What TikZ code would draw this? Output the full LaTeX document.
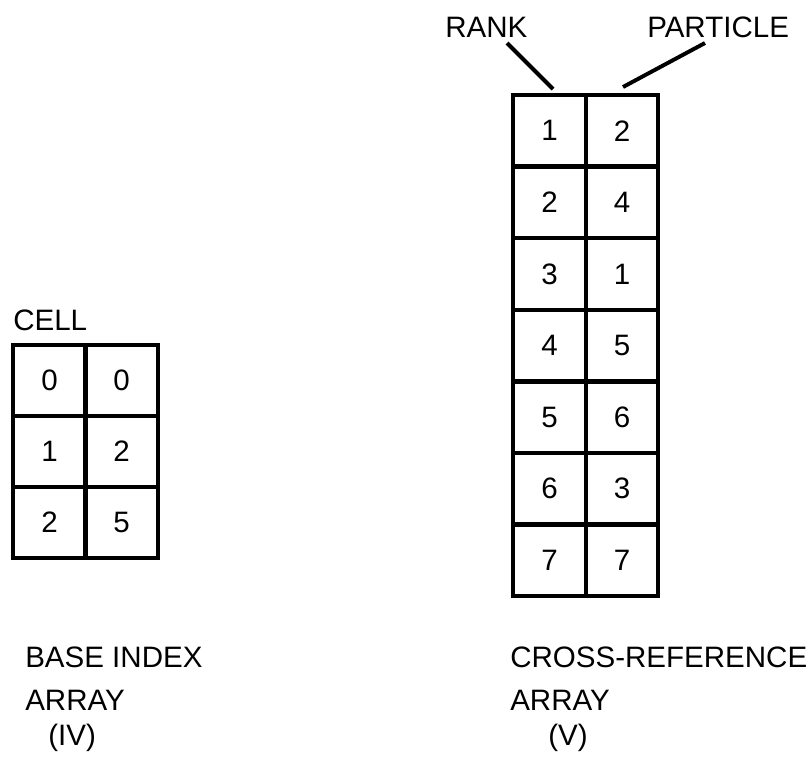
\documentclass[tikz,border=0pt]{standalone}
\usepackage{fontspec}
\setmainfont{Liberation Sans}
\usetikzlibrary{positioning}

\begin{document}
\begin{tikzpicture}[x=0.025cm, y=-0.025cm,
    every node/.style={font=\fontsize{21}{25}\selectfont},
    cell/.style={draw, line width=2.8pt, inner sep=0pt, minimum width=1.81cm, minimum height=1.78cm},
    lbl/.style={anchor=base west, inner sep=0pt},
    lead/.style={line width=2.8pt}]
\useasboundingbox (0,0) rectangle (812,759);
% base index array
\foreach \r/\a/\b in {1/0/0, 2/1/2, 3/2/5} {
    \node[cell] (bi\r1) at (49.5,{309.5+71*\r}) {\a};
    \node[cell] (bi\r2) at (121.5,{309.5+71*\r}) {\b};
}
\node[lbl] (celltxt) at (13,330) {CELL};
% cross-reference array
\foreach \r/\a/\b in {1/1/2, 2/2/4, 3/3/1, 4/4/5, 5/5/6, 6/6/3, 7/7/7} {
    \node[cell] (cr\r1) at (549.5,{59.2+71.6*\r}) {\a};
    \node[cell] (cr\r2) at (622,{59.2+71.6*\r}) {\b};
}
\node[lbl] (ranktxt) at (445,37) {RANK};
\node[lbl] (parttxt) at (647,37) {PARTICLE};
\coordinate (rk) at (507,43);
\coordinate (pt) at (705,43);
\coordinate (rkend) at (553,89);
\coordinate (ptend) at (623,87);
\draw[lead] (rk) -- (rkend);
\draw[lead] (pt) -- (ptend);
% captions
\node[lbl] (bi1txt) at (25,667) {BASE INDEX};
\node[lbl] (bi2txt) at (25,710) {ARRAY};
\node[lbl] (bi3txt) at (48,745) {(IV)};
\node[lbl] (cr1txt) at (510,667) {CROSS-REFERENCE};
\node[lbl] (cr2txt) at (510,710) {ARRAY};
\node[lbl] (cr3txt) at (548,745) {(V)};
\end{tikzpicture}
\end{document}
